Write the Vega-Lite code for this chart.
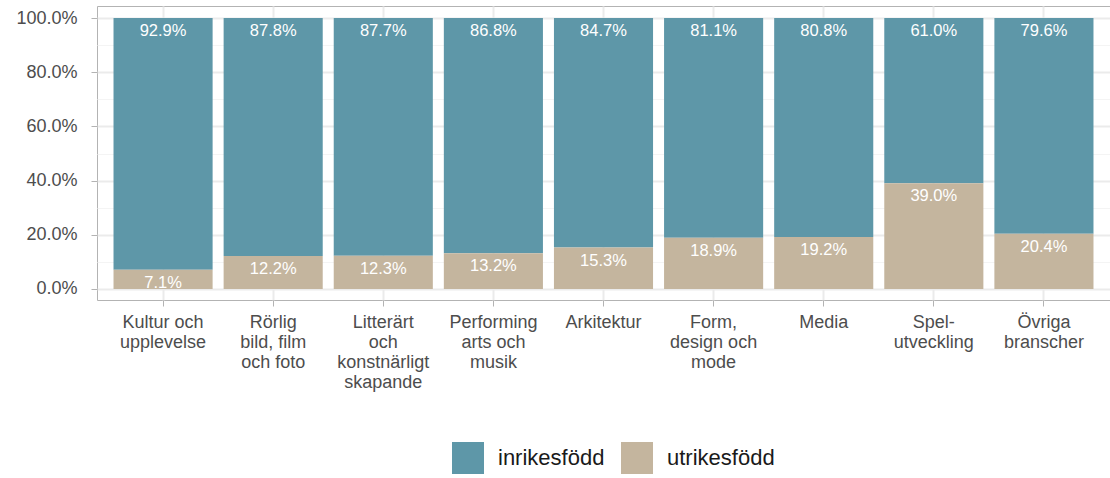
{
  "$schema": "https://vega.github.io/schema/vega-lite/v6.json",
  "width": 1013,
  "height": 294,
  "autosize": {"type": "none"},
  "padding": {"left": 97, "top": 6, "right": 0, "bottom": 178},
  "background": "white",
  "config": {
    "font": "Liberation Sans",
    "view": {"stroke": "#b3b3b3", "strokeWidth": 1}
  },
  "data": {
    "values": [
      {"bransch": "Kultur och|upplevelse", "grupp": "inrikesfödd", "andel": 0.929},
      {"bransch": "Kultur och|upplevelse", "grupp": "utrikesfödd", "andel": 0.071},
      {"bransch": "Rörlig|bild, film|och foto", "grupp": "inrikesfödd", "andel": 0.878},
      {"bransch": "Rörlig|bild, film|och foto", "grupp": "utrikesfödd", "andel": 0.122},
      {"bransch": "Litterärt|och|konstnärligt|skapande", "grupp": "inrikesfödd", "andel": 0.877},
      {"bransch": "Litterärt|och|konstnärligt|skapande", "grupp": "utrikesfödd", "andel": 0.123},
      {"bransch": "Performing|arts och|musik", "grupp": "inrikesfödd", "andel": 0.868},
      {"bransch": "Performing|arts och|musik", "grupp": "utrikesfödd", "andel": 0.132},
      {"bransch": "Arkitektur", "grupp": "inrikesfödd", "andel": 0.847},
      {"bransch": "Arkitektur", "grupp": "utrikesfödd", "andel": 0.153},
      {"bransch": "Form,|design och|mode", "grupp": "inrikesfödd", "andel": 0.811},
      {"bransch": "Form,|design och|mode", "grupp": "utrikesfödd", "andel": 0.189},
      {"bransch": "Media", "grupp": "inrikesfödd", "andel": 0.808},
      {"bransch": "Media", "grupp": "utrikesfödd", "andel": 0.192},
      {"bransch": "Spel-|utveckling", "grupp": "inrikesfödd", "andel": 0.610},
      {"bransch": "Spel-|utveckling", "grupp": "utrikesfödd", "andel": 0.390},
      {"bransch": "Övriga|branscher", "grupp": "inrikesfödd", "andel": 0.796},
      {"bransch": "Övriga|branscher", "grupp": "utrikesfödd", "andel": 0.204}
    ]
  },
  "encoding": {
    "x": {
      "field": "bransch",
      "type": "nominal",
      "sort": null,
      "scale": {"paddingInner": 0.1, "paddingOuter": 0.15},
      "axis": {
        "title": null,
        "labelAngle": 0,
        "labelExpr": "split(datum.label, '|')",
        "labelFontSize": 18,
        "labelColor": "#4d4d4d",
        "labelLineHeight": 20,
        "labelPadding": 7,
        "labelOverlap": false,
        "labelLimit": 0,
        "domain": false,
        "tickColor": "#b3b3b3",
        "tickSize": 6,
        "grid": true,
        "gridColor": "#ebebeb",
        "gridWidth": 2
      }
    },
    "y": {
      "field": "andel",
      "type": "quantitative",
      "stack": "zero",
      "scale": {"domain": [-0.0406, 1.0443], "nice": false, "zero": false},
      "axis": {
        "title": null,
        "values": [0, 0.1, 0.2, 0.3, 0.4, 0.5, 0.6, 0.7, 0.8, 0.9, 1],
        "labelExpr": "round(datum.value*10) % 2 == 0 ? format(datum.value, '.1%') : ''",
        "labelFontSize": 18,
        "labelColor": "#4d4d4d",
        "labelPadding": 14,
        "domain": false,
        "tickColor": "#b3b3b3",
        "tickSize": 6,
        "tickOpacity": {"condition": {"test": "round(datum.value*10) % 2 == 0", "value": 1}, "value": 0},
        "grid": true,
        "gridColor": {"condition": {"test": "round(datum.value*10) % 2 == 0", "value": "#ebebeb"}, "value": "#f4f4f4"},
        "gridWidth": {"condition": {"test": "round(datum.value*10) % 2 == 0", "value": 2}, "value": 1}
      }
    },
    "order": {"field": "grupp", "sort": "descending"}
  },
  "layer": [
    {
      "mark": {"type": "bar"},
      "encoding": {
        "color": {
          "field": "grupp",
          "type": "nominal",
          "scale": {"domain": ["inrikesfödd", "utrikesfödd"], "range": ["#5E97A8", "#C4B59E"]},
          "legend": {
            "title": null,
            "orient": "none",
            "direction": "horizontal",
            "legendX": 355,
            "legendY": 436,
            "padding": 0,
            "symbolType": "square",
            "symbolSize": 1024,
            "symbolStrokeWidth": 0,
            "labelFontSize": 22,
            "labelColor": "#1a1a1a",
            "labelOffset": 14,
            "columnPadding": 16
          }
        }
      }
    },
    {
      "mark": {"type": "text", "baseline": "middle", "dy": 13, "fontSize": 16.5, "color": "white"},
      "encoding": {
        "detail": {"field": "grupp", "type": "nominal"},
        "text": {"field": "andel", "type": "quantitative", "format": ".1%"}
      }
    }
  ]
}
